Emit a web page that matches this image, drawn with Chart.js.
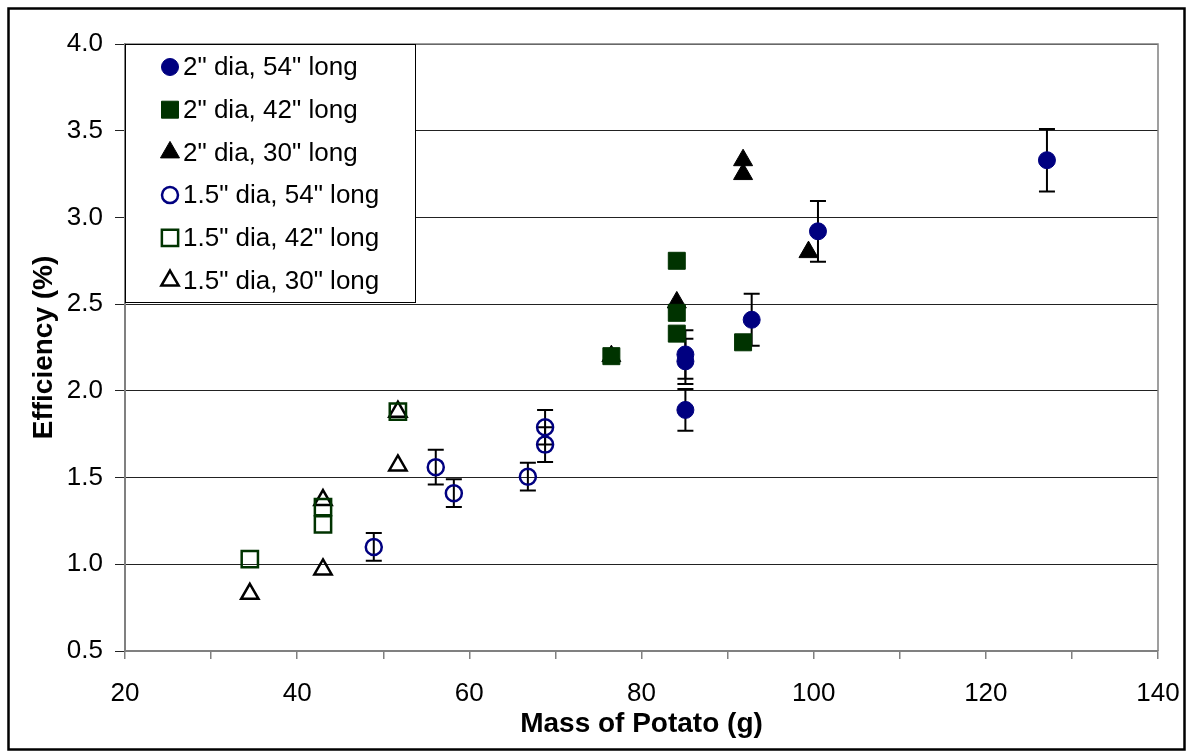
<!DOCTYPE html>
<html>
<head>
<meta charset="utf-8">
<script src="https://cdn.jsdelivr.net/npm/chart.js@4.4.1/dist/chart.umd.min.js"></script>
<style>
  body { margin: 0; background: #fff; }
  canvas { display: block; }
</style>
</head>
<body>
<canvas id="grafico" width="1191" height="756"></canvas>
<script>
// serie e valori
var etichette = [
    '2" dia, 54" long',
    '2" dia, 42" long',
    '2" dia, 30" long',
    '1.5" dia, 54" long',
    '1.5" dia, 42" long',
    '1.5" dia, 30" long'
];

// 2" dia, 54" long (con barre di errore)
var massa2d54 = [127.1, 100.5, 92.8, 85.1, 85.1, 85.1];
var eff2d54 = [3.33, 2.92, 2.41, 2.21, 2.17, 1.89];
var err2d54 = [0.18, 0.175, 0.15, 0.14, 0.13, 0.12];

// 2" dia, 42" long
var massa2d42 = [76.5, 84.1, 84.1, 84.1, 91.8];
var eff2d42 = [2.20, 2.75, 2.45, 2.33, 2.28];

// 2" dia, 30" long
var massa2d30 = [76.5, 84.1, 91.8, 91.8, 99.4];
var eff2d30 = [2.20, 2.51, 3.33, 3.25, 2.80];

// 1.5" dia, 54" long (con barre di errore)
var massa15d54 = [48.9, 56.1, 58.2, 66.8, 68.8, 68.8];
var eff15d54 = [1.10, 1.56, 1.41, 1.505, 1.79, 1.69];
var err15d54 = [0.08, 0.10, 0.08, 0.08, 0.10, 0.10];

// 1.5" dia, 42" long
var massa15d42 = [34.5, 43.0, 43.0, 51.7];
var eff15d42 = [1.03, 1.33, 1.23, 1.88];

// 1.5" dia, 30" long
var massa15d30 = [34.5, 43.0, 43.0, 51.7, 51.7];
var eff15d30 = [0.83, 0.97, 1.37, 1.88, 1.57];

var tickY = [0.5, 1.0, 1.5, 2.0, 2.5, 3.0, 3.5, 4.0];

function punti(xs, ys, errs) {
    var out = [];
    for (var i = 0; i < xs.length; i++) {
        var p = { x: xs[i], y: ys[i] };
        if (errs) p.err = errs[i];
        out.push(p);
    }
    return out;
}

var blu = '#000080';
var verde = '#003300';
var nero = '#000000';
var font = 'Liberation Sans, Arial, sans-serif';

var datasets = [
    { label: etichette[0], data: punti(massa2d54, eff2d54, err2d54), pointStyle: 'circle', pointRadius: 8.5, pointBorderWidth: 1, backgroundColor: blu, borderColor: blu },
    { label: etichette[1], data: punti(massa2d42, eff2d42), pointStyle: 'rect', pointRadius: 12, pointBorderWidth: 1, backgroundColor: verde, borderColor: verde },
    { label: etichette[2], data: punti(massa2d30, eff2d30), pointStyle: 'triangle', pointRadius: 11, pointBorderWidth: 1, backgroundColor: nero, borderColor: nero },
    { label: etichette[3], data: punti(massa15d54, eff15d54, err15d54), pointStyle: 'circle', pointRadius: 8, pointBorderWidth: 2.5, backgroundColor: 'rgba(0,0,0,0)', borderColor: blu },
    { label: etichette[4], data: punti(massa15d42, eff15d42), pointStyle: 'rect', pointRadius: 11.5, pointBorderWidth: 2.5, backgroundColor: 'rgba(0,0,0,0)', borderColor: verde },
    { label: etichette[5], data: punti(massa15d30, eff15d30), pointStyle: 'triangle', pointRadius: 10, pointBorderWidth: 2.5, backgroundColor: 'rgba(0,0,0,0)', borderColor: nero }
];

// barre di errore, disegnate sotto i marker
var barreErrore = {
    id: 'barreErrore',
    beforeDatasetsDraw: function (chart) {
        var ctx = chart.ctx;
        var xs = chart.scales.x, ys = chart.scales.y;
        ctx.save();
        ctx.strokeStyle = '#000';
        ctx.lineWidth = 2;
        chart.data.datasets.forEach(function (ds) {
            ds.data.forEach(function (p) {
                if (p.err === undefined) return;
                var px = xs.getPixelForValue(p.x);
                var top = ys.getPixelForValue(p.y + p.err);
                var bot = ys.getPixelForValue(p.y - p.err);
                ctx.beginPath();
                ctx.moveTo(px, top); ctx.lineTo(px, bot);
                ctx.moveTo(px - 8, top); ctx.lineTo(px + 8, top);
                ctx.moveTo(px - 8, bot); ctx.lineTo(px + 8, bot);
                ctx.stroke();
            });
        });
        // bordo grigio dell'area del grafico (sopra e a destra)
        var a = chart.chartArea;
        ctx.strokeStyle = '#808080';
        ctx.lineWidth = 1.5;
        ctx.beginPath();
        ctx.moveTo(a.left, a.top); ctx.lineTo(a.right, a.top); ctx.lineTo(a.right, a.bottom);
        ctx.stroke();
        ctx.restore();
    },
    afterDraw: function (chart) {
        var ctx = chart.ctx;
        var a = chart.chartArea;
        ctx.save();
        // legenda in alto a sinistra dentro il grafico
        var bx = a.left, by = a.top, bw = 290, bh = 258;
        ctx.fillStyle = '#fff';
        ctx.fillRect(bx, by, bw, bh);
        ctx.strokeStyle = '#000';
        ctx.lineWidth = 1;
        ctx.strokeRect(bx + 0.5, by + 0.5, bw, bh);
        ctx.font = '26px ' + font;
        ctx.textBaseline = 'middle';
        chart.data.datasets.forEach(function (ds, i) {
            var y = by + 23 + i * 42.7;
            ctx.fillStyle = ds.backgroundColor;
            ctx.strokeStyle = ds.borderColor;
            ctx.lineWidth = ds.pointBorderWidth;
            Chart.helpers.drawPoint(ctx, { pointStyle: ds.pointStyle, radius: ds.pointRadius, rotation: 0, borderWidth: ds.pointBorderWidth }, bx + 45, y);
            ctx.fillStyle = '#000';
            ctx.fillText(ds.label, bx + 58, y + 1);
        });
        // cornice esterna
        ctx.strokeStyle = '#000';
        ctx.lineWidth = 2.5;
        ctx.strokeRect(8.5, 8.5, 1176, 741);
        ctx.restore();
    }
};

var ctx = document.getElementById('grafico');
var chart = new Chart(ctx, {
    type: 'scatter',
    data: { datasets: datasets },
    options: {
        responsive: false,
        animation: false,
        events: [],
        layout: { padding: { left: 0, top: 44, right: 33, bottom: 0 } },
        plugins: {
            legend: { display: false },
            tooltip: { enabled: false }
        },
        scales: {
            x: {
                type: 'linear',
                min: 20,
                max: 140,
                afterFit: function (s) { s.height = 105; s.paddingLeft = 0; s.paddingRight = 0; },
                ticks: {
                    stepSize: 10,
                    autoSkip: false,
                    maxRotation: 0,
                    padding: 19,
                    color: '#000',
                    font: { family: font, size: 26 },
                    callback: function (v) { return v % 20 === 0 ? v : ''; }
                },
                grid: { drawOnChartArea: false, drawTicks: true, tickLength: 8, color: '#808080', lineWidth: 1.5 },
                border: { color: '#808080', width: 2 },
                title: {
                    display: true,
                    text: 'Mass of Potato (g)',
                    color: '#000',
                    font: { family: font, size: 28, weight: 'bold' },
                    padding: { top: 0, bottom: 15 }
                }
            },
            y: {
                min: 0.5,
                max: 4.0,
                afterFit: function (s) { s.width = 125; s.paddingTop = 0; s.paddingBottom = 0; },
                afterBuildTicks: function (s) { s.ticks = tickY.map(function (v) { return { value: v }; }); },
                ticks: {
                    padding: 12,
                    color: '#000',
                    font: { family: font, size: 26 },
                    callback: function (v) { return Number(v).toFixed(1); }
                },
                grid: { color: '#222', lineWidth: 1, tickLength: 10 },
                border: { color: '#808080', width: 2 },
                title: {
                    display: true,
                    text: 'Efficiency (%)',
                    color: '#000',
                    font: { family: font, size: 28, weight: 'bold' },
                    padding: { top: 27, bottom: 0 }
                }
            }
        }
    },
    plugins: [barreErrore]
});
</script>
</body>
</html>
